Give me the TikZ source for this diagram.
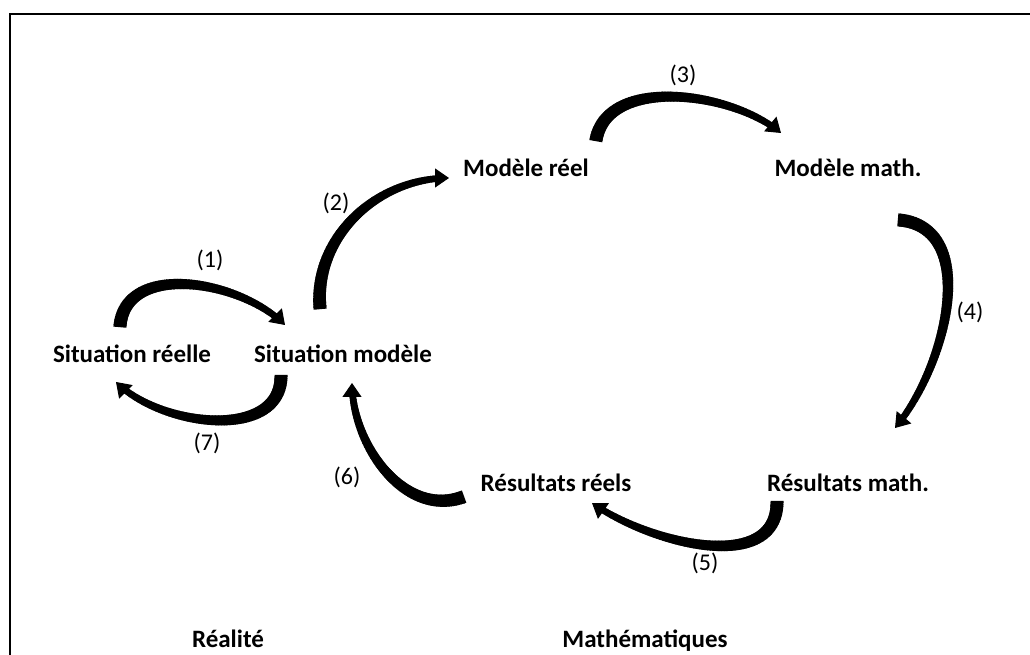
\documentclass[tikz,border=0pt]{standalone}
\usepackage{fontspec}
\setmainfont{Carlito}
\usetikzlibrary{arrows.meta,decorations.markings}
\tikzset{
  stage/.style={font=\fontsize{25}{30}\selectfont\bfseries,anchor=base,inner sep=0pt},
  area/.style={font=\fontsize{25}{30}\selectfont\bfseries,anchor=base,inner sep=0pt},
  nlbl/.style={font=\fontsize{24}{29}\selectfont,inner sep=0pt},
  flow/.style={line width=1pt,-{Triangle[length=14pt,width=19pt]},
    postaction={decorate},decoration={markings,
      mark=between positions 0 and -9pt step 1.5pt with {
        \pgfmathsetmacro{\bandw}{13-7*\pgfkeysvalueof{/pgf/decoration/mark info/distance from start}/\pgfdecoratedpathlength}
        \draw[line width=\bandw pt,-] (-1.2pt,0) -- (1.2pt,0);}}},
}
\begin{document}
\begin{tikzpicture}[x=1pt,y=1pt]
  \useasboundingbox (0,0) rectangle (1030,655);
  \draw[line width=2pt] (10,0) -- (10,641) -- (1030,641);
  % stages of the cycle
  \node[stage] (sr) at (132,292) {Situation réelle};
  \node[stage] (sm) at (343,292) {Situation modèle};
  \node[stage] (mr) at (526,478) {Modèle réel};
  \node[stage] (mm) at (848,478) {Modèle math.};
  \node[stage] (rr) at (556,163) {Résultats réels};
  \node[stage] (rm) at (848,163) {Résultats math.};
  \node[area] (real) at (228,7) {Réalité};
  \node[area] (math) at (645,7) {Mathématiques};
  % curved arrows
  \draw[flow] ([shift={(-12,37)}]sr.base) to[out=85,in=135] ([shift={(-58,38)}]sm.base);
  \draw[flow] ([shift={(-23,55)}]sm.base) to[out=95,in=180] ([shift={(-77,-1)}]mr.base);
  \draw[flow] ([shift={(70,37)}]mr.base) to[out=80,in=140,looseness=0.9] ([shift={(-67,44)}]mm.base);
  \draw[flow] ([shift={(51,-43)}]mm.base) to[out=-5,in=50] ([shift={(47,64)}]rm.base);
  \draw[flow] ([shift={(-71,-10)}]rm.base) to[out=-90,in=-35] ([shift={(36,-11)}]rr.base);
  \draw[flow] ([shift={(-93,-5)}]rr.base) to[out=200,in=-90] ([shift={(9,-20)}]sm.base);
  \draw[flow] ([shift={(-62,-13)}]sm.base) to[out=-90,in=-45] ([shift={(-16,-19)}]sr.base);
  % step numbers
  \node[nlbl] (n1) at (210,395) {(1)};
  \node[nlbl] (n2) at (336,452) {(2)};
  \node[nlbl] (n3) at (683,580) {(3)};
  \node[nlbl] (n4) at (970,343) {(4)};
  \node[nlbl] (n5) at (705,92) {(5)};
  \node[nlbl] (n6) at (347,178) {(6)};
  \node[nlbl] (n7) at (207,212) {(7)};
\end{tikzpicture}
\end{document}
